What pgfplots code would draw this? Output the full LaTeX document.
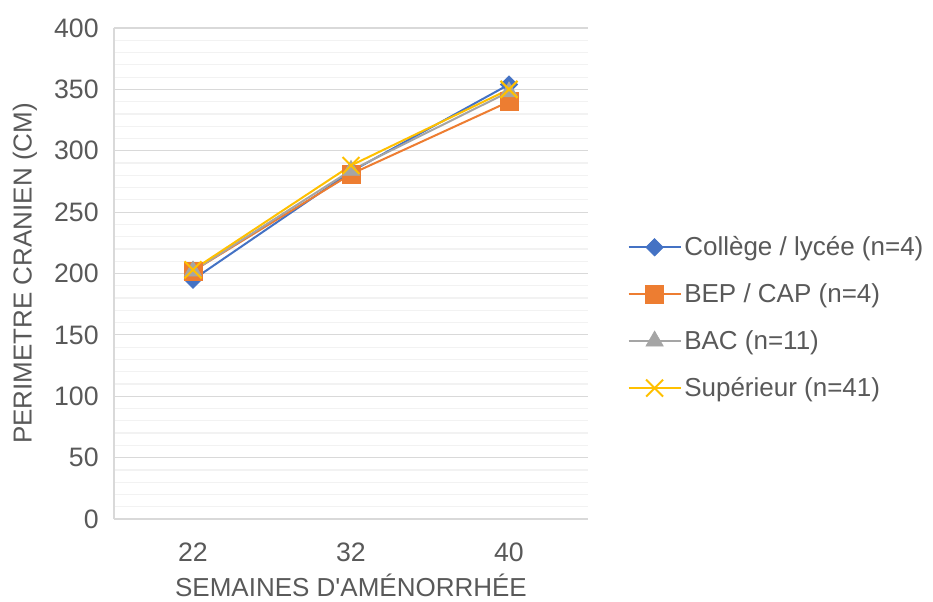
\documentclass[border=0pt]{standalone}
\usepackage{pgfplots}
\pgfplotsset{compat=1.18}
\usepackage{fontspec}
\setmainfont{Liberation Sans}

\definecolor{cblue}{HTML}{4472C4}
\definecolor{corange}{HTML}{ED7D31}
\definecolor{cgray}{HTML}{A5A5A5}
\definecolor{cyellow}{HTML}{FFC000}
\definecolor{txt}{HTML}{595959}
\definecolor{majgrid}{HTML}{D9D9D9}
\definecolor{mingrid}{HTML}{F2F2F2}

\begin{document}
\begin{tikzpicture}
\path[use as bounding box] (0,0) rectangle (699.75pt,450.75pt);
\begin{axis}[
    at={(85.5pt,61.5pt)}, anchor=south west,
    scale only axis,
    width=355.5pt, height=368.25pt,
    xmin=-0.5, xmax=2.5,
    ymin=0, ymax=400,
    xtick={0,1,2},
    xticklabels={22,32,40},
    ytick={0,50,...,400},
    minor y tick num=4,
    ymajorgrids, yminorgrids,
    major grid style={majgrid, line width=0.9pt},
    minor grid style={mingrid, line width=0.9pt},
    axis x line=bottom, axis y line=left,
    axis line style={majgrid, line width=0.9pt, -},
    major tick length=0pt, minor tick length=0pt,
    tick style={draw=none},
    /pgf/number format/assume math mode=true,
    tick label style={font=\fontsize{20}{24}\selectfont, text=txt},
    xticklabel style={yshift=-14pt},
    yticklabel style={xshift=-8pt},
    xlabel={SEMAINES D\textquotesingle AMÉNORRHÉE},
    ylabel={PERIMETRE CRANIEN (CM)},
    label style={font=\fontsize{19.5}{23}\selectfont, text=txt},
    xlabel style={yshift=-2.5pt},
    ylabel style={yshift=6pt},
    legend style={at={(1.083,0.41)}, anchor=west, draw=none, fill=none,
        font=\fontsize{19.5}{23}\selectfont, text=txt,
        row sep=15.5pt, inner sep=0pt},
    legend cell align=left,
    legend image code/.code={
        \draw[mark repeat=2, mark phase=2] plot coordinates {(0pt,0pt) (19.5pt,0pt) (39pt,0pt)};
    },
]
\addplot[cblue, line width=1.5pt, mark=square*, mark size=4.6pt, mark options={fill=cblue, draw=cblue, line width=0.5pt, rotate=45}]
    coordinates {(0,195) (1,283) (2,354)};
\addplot[corange, line width=1.5pt, mark=square*, mark size=6.8pt, mark options={fill=corange, draw=corange, line width=0.5pt}]
    coordinates {(0,202) (1,281) (2,340)};
\addplot[cgray, line width=1.5pt, mark=triangle*, mark size=7.5pt, mark options={fill=cgray, draw=cgray, line width=0.5pt}]
    coordinates {(0,202) (1,284) (2,348)};
\addplot[cyellow, line width=1.5pt, mark=x, mark size=9pt, mark options={draw=cyellow, line width=1.5pt}]
    coordinates {(0,203) (1,288) (2,350)};
\legend{Collège / lycée (n=4), BEP / CAP (n=4), BAC (n=11), Supérieur (n=41)}
\end{axis}
\end{tikzpicture}
\end{document}
